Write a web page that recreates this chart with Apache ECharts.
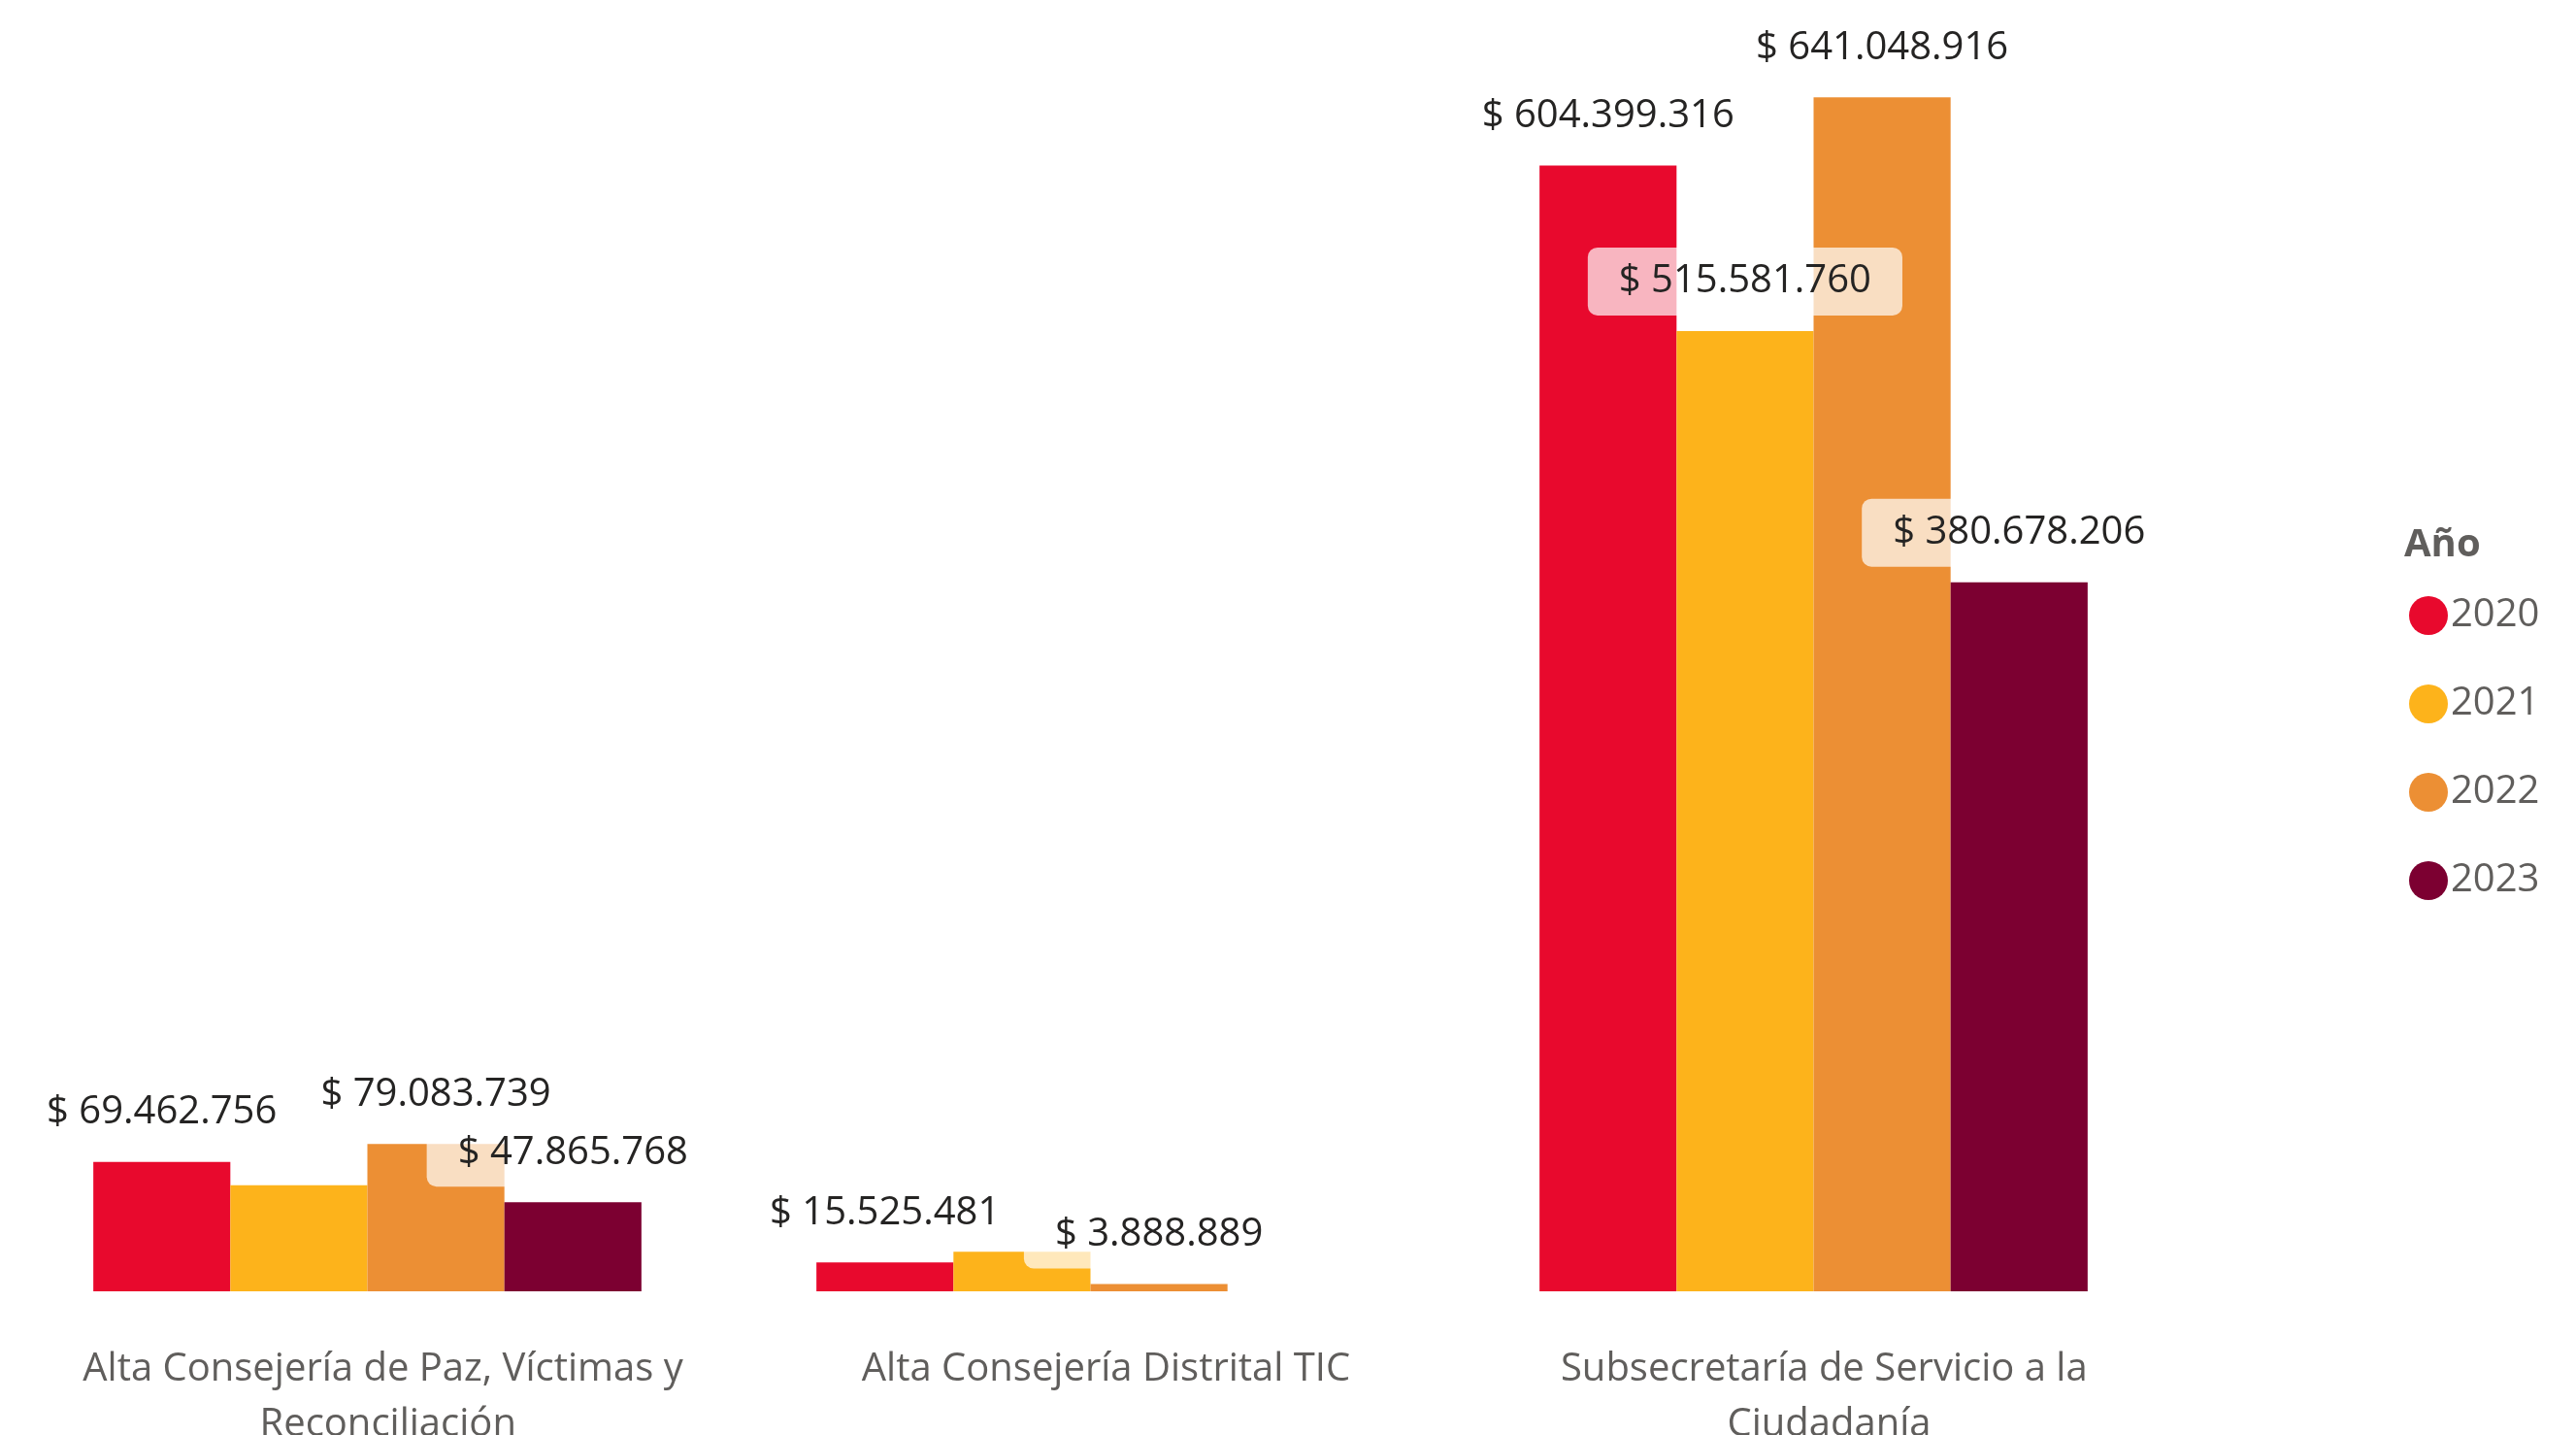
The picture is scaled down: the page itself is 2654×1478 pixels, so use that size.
<!DOCTYPE html>
<html>
<head>
<meta charset="utf-8">
<script src="https://cdn.jsdelivr.net/npm/echarts@6/dist/echarts.min.js"></script>
<style>
  html, body { margin: 0; padding: 0; background: #ffffff; }
  #chart { width: 2654px; height: 1478px; }
</style>
</head>
<body>
<div id="chart"></div>
<script>
// Dependencias (categorías del eje X)
const categories = [
  'Alta Consejería de Paz, Víctimas y Reconciliación',
  'Alta Consejería Distrital TIC',
  'Subsecretaría de Servicio a la Ciudadanía'
];

// Años de la leyenda
const years = ['2020', '2021', '2022', '2023'];

// Valores por año (pesos)
const values2020 = [69462756, 15525481, 604399316];
const values2021 = [57000000, 21200000, 515581760];
const values2022 = [79083739, 3888889, 641048916];
const values2023 = [47865768, null, 380678206];

// Etiquetas visibles por año (las que se solapan no se muestran)
const showLabels2020 = [true, true, true];
const showLabels2021 = [false, false, true];
const showLabels2022 = [true, true, true];
const showLabels2023 = [true, true, true];

const seriesValues = [values2020, values2021, values2022, values2023];
const seriesLabels = [showLabels2020, showLabels2021, showLabels2022, showLabels2023];
const colors = ['#E8092D', '#FDB31B', '#EC8F34', '#7C0031'];

const FONT = '"Segoe UI", "Open Sans", "Noto Sans", sans-serif';

function money(v) {
  const s = String(Math.round(v)).replace(/\B(?=(\d{3})+(?!\d))/g, '.');
  return '$ ' + s;
}

const chart = echarts.init(document.getElementById('chart'), null, { renderer: 'canvas' });

const series = years.map((y, i) => ({
  name: y,
  type: 'bar',
  barGap: '0%',
  barCategoryGap: '24.2%',
  itemStyle: { color: colors[i] },
  label: {
    show: true,
    position: 'top',
    distance: 16,
    formatter: p => money(p.value),
    fontFamily: FONT,
    fontSize: 40,
    lineHeight: 46,
    color: '#252423',
    backgroundColor: 'rgba(255,255,255,0.7)',
    borderRadius: 10,
    padding: [12, 32]
  },
  labelLayout: { hideOverlap: false },
  data: seriesValues[i].map((v, j) => ({
    value: v,
    label: { show: seriesLabels[i][j] }
  }))
}));

chart.setOption({
  animation: false,
  backgroundColor: '#ffffff',
  color: colors,
  title: {
    text: 'Año',
    left: 2477,
    top: 542,
    padding: 0,
    textStyle: {
      fontFamily: FONT,
      fontSize: 40,
      fontWeight: 'bold',
      color: '#605E5C'
    }
  },
  legend: {
    orient: 'vertical',
    left: 2482,
    top: 614,
    padding: 0,
    icon: 'circle',
    itemWidth: 40,
    itemHeight: 40,
    itemGap: 51,
    data: years,
    textStyle: {
      fontFamily: FONT,
      fontSize: 40,
      lineHeight: 40,
      color: '#605E5C',
      padding: [0, 0, 0, -2]
    }
  },
  grid: {
    left: 6,
    right: 413,
    top: 83,
    bottom: 148,
    containLabel: false,
    outerBoundsMode: 'none'
  },
  xAxis: {
    type: 'category',
    data: categories,
    axisLine: { show: false },
    axisTick: { show: false },
    axisLabel: {
      interval: 0,
      margin: 52,
      fontFamily: FONT,
      fontSize: 40,
      lineHeight: 57,
      color: '#605E5C',
      width: 680,
      overflow: 'break',
      padding: [0, 0, 0, 32]
    }
  },
  yAxis: {
    type: 'value',
    min: 0,
    max: 650000000,
    show: false,
    splitLine: { show: false }
  },
  series: series
});
</script>
</body>
</html>
